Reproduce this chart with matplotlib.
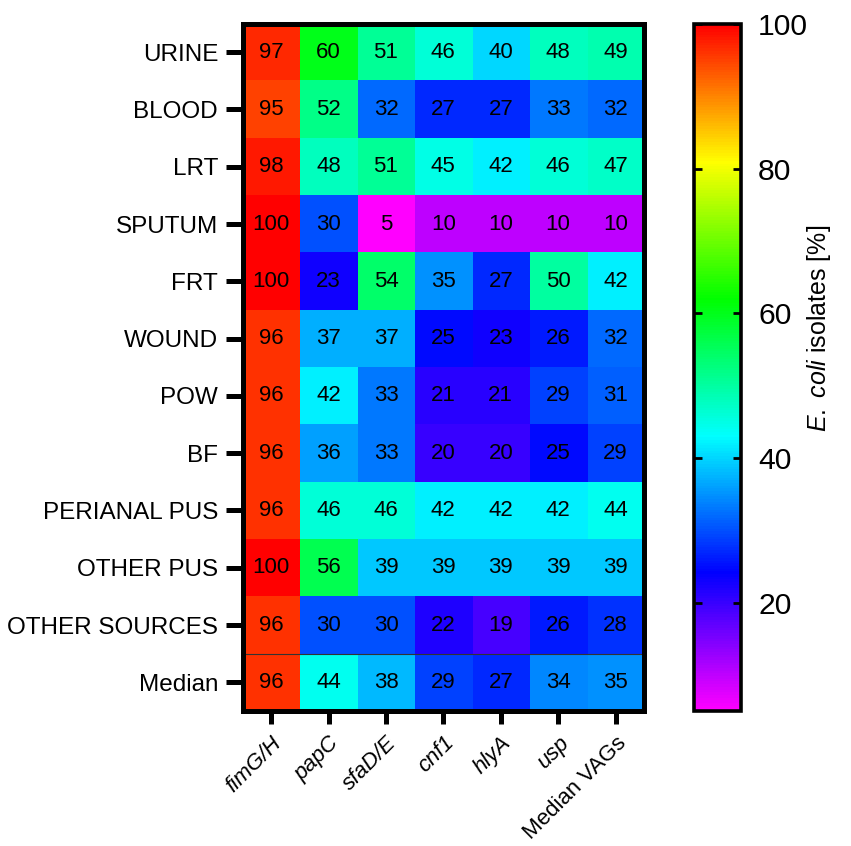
import numpy as np
import matplotlib
matplotlib.use('Agg')
import matplotlib.pyplot as plt
from matplotlib.colors import LinearSegmentedColormap

plt.rcParams['font.family'] = ['Liberation Sans', 'DejaVu Sans']
plt.rcParams['mathtext.fontset'] = 'custom'
plt.rcParams['mathtext.rm'] = 'Liberation Sans'
plt.rcParams['mathtext.it'] = 'Liberation Sans:italic'

# Data
sources = ['URINE', 'BLOOD', 'LRT', 'SPUTUM', 'FRT', 'WOUND', 'POW', 'BF',
           'PERIANAL PUS', 'OTHER PUS', 'OTHER SOURCES', 'Median']
genes = ['fimG/H', 'papC', 'sfaD/E', 'cnf1', 'hlyA', 'usp', 'Median VAGs']
gene_italic = [True, True, True, True, True, True, False]

urine = [97, 60, 51, 46, 40, 48, 49]
blood = [95, 52, 32, 27, 27, 33, 32]
lrt = [98, 48, 51, 45, 42, 46, 47]
sputum = [100, 30, 5, 10, 10, 10, 10]
frt = [100, 23, 54, 35, 27, 50, 42]
wound = [96, 37, 37, 25, 23, 26, 32]
pow_ = [96, 42, 33, 21, 21, 29, 31]
bf = [96, 36, 33, 20, 20, 25, 29]
perianal_pus = [96, 46, 46, 42, 42, 42, 44]
other_pus = [100, 56, 39, 39, 39, 39, 39]
other_sources = [96, 30, 30, 22, 19, 26, 28]
median = [96, 44, 38, 29, 27, 34, 35]

values = np.array([urine, blood, lrt, sputum, frt, wound, pow_, bf,
                   perianal_pus, other_pus, other_sources, median])

cbar_ticks = [20, 40, 60, 80, 100]
vmin, vmax = 5, 100

# rainbow: magenta -> blue -> cyan -> green -> yellow -> red
cmap = LinearSegmentedColormap.from_list(
    'rainbow_prism', ['#ff00ff', '#0000ff', '#00ffff', '#00ff00', '#ffff00', '#ff0000'])

fig = plt.figure(figsize=(8.51, 8.46), dpi=100)
ax = fig.add_axes([0.285, 0.1596, 0.472, 0.8126])
cax = fig.add_axes([0.816, 0.1596, 0.0552, 0.8120])

im = ax.imshow(values, cmap=cmap, vmin=vmin, vmax=vmax, aspect='auto',
               interpolation='nearest')

for i in range(values.shape[0]):
    for j in range(values.shape[1]):
        ax.text(j, i, str(values[i, j]), ha='center', va='center',
                fontsize=16, color='black')

# thin separator above the median row
ax.axhline(len(sources) - 1.5, color='#333333', lw=0.8)

ax.set_yticks(range(len(sources)))
ax.set_yticklabels(sources, fontsize=17.5)
ax.set_xticks(range(len(genes)))
ax.set_xticklabels(genes, fontsize=16, rotation=45, ha='right',
                   rotation_mode='anchor')
for lab, it in zip(ax.get_xticklabels(), gene_italic):
    if it:
        lab.set_fontstyle('italic')

ax.tick_params(axis='y', length=12.6, width=3.6, pad=5)
ax.tick_params(axis='x', length=9.4, width=3.6, pad=6)
for sp in ax.spines.values():
    sp.set_linewidth(3.6)

cb = fig.colorbar(im, cax=cax, ticks=cbar_ticks)
cb.outline.set_linewidth(2.6)
cax.tick_params(axis='y', direction='in', left=True, right=True,
                length=6, width=2, labelsize=21.7, pad=12)
cax.text(2.65, 0.557, r'$\mathit{E.\ coli}$ isolates [%]', transform=cax.transAxes,
         rotation=90, ha='center', va='center', fontsize=18)

plt.savefig('out.png', dpi=100)
